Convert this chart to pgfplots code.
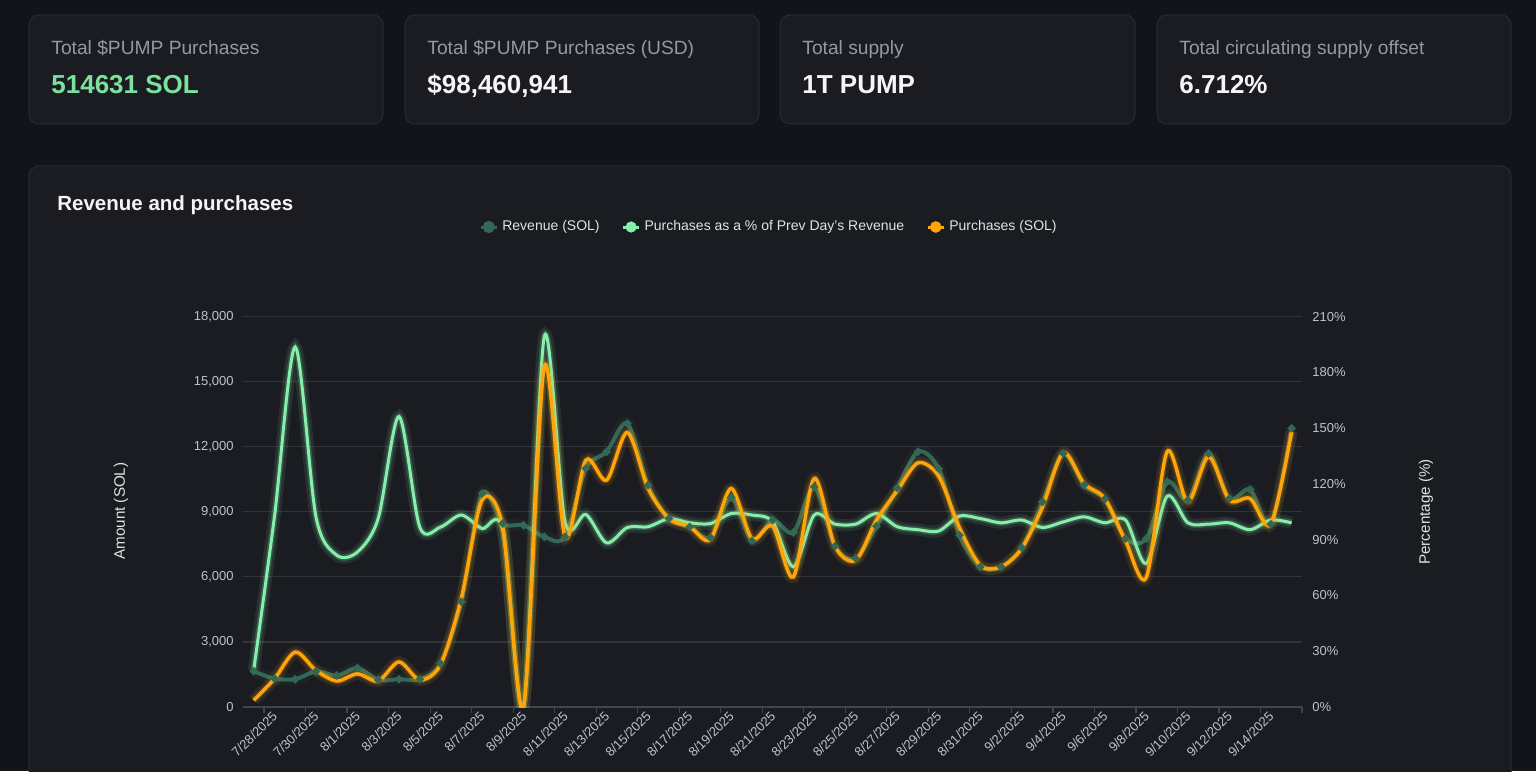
\documentclass[border=0pt]{standalone}
\usepackage{fontspec}
\setmainfont{Liberation Sans}
\usepackage{pgfplots}
\pgfplotsset{compat=1.18}
\usepackage{pgfplotstable}

\definecolor{pagebg}{RGB}{19,20,25}
\definecolor{cardbg}{RGB}{27,28,33}
\definecolor{cardborder}{RGB}{42,43,49}
\definecolor{labelgray}{RGB}{150,152,160}
\definecolor{valwhite}{RGB}{245,245,247}
\definecolor{valgreen}{RGB}{122,226,156}
\definecolor{revcol}{RGB}{52,104,86}
\definecolor{revdot}{RGB}{36,96,82}
\definecolor{pctcol}{RGB}{134,239,172}
\definecolor{purcol}{RGB}{255,165,10}
\definecolor{gridcol}{RGB}{50,52,58}
\definecolor{axcol}{RGB}{66,68,75}
\definecolor{ticktext}{RGB}{192,194,200}
\definecolor{axtext}{RGB}{225,226,230}

% k = day index (0 = 7/28/2025 band), rev = Revenue (SOL), pct = Purchases as % of prev day's revenue, pur = Purchases (SOL)
\pgfplotstableread{
k rev pct pur
0 1650 19.7 310
1 1310 102.3 1300
2 1280 193.7 2530
3 1640 102.3 1690
4 1450 81.7 1200
5 1800 83.4 1530
6 1250 101.5 1200
7 1280 156.3 2080
8 1280 96.8 1250
9 2000 96.8 1950
10 4850 103.3 5000
11 9850 96.0 9540
12 8460 95.1 8300
13 8380 0 0
14 7850 199.3 15700
15 7850 99.6 7850
16 11000 103.6 11380
17 11770 88.3 10460
18 13080 96.6 12660
19 10230 97.0 10080
20 8690 101.3 8690
21 8310 99.1 8310
22 7815 98.7 7720
23 9660 104.1 10080
24 7660 103.3 7770
25 8620 99.6 8340
26 8050 75.4 6000
27 10150 103.3 10540
28 7415 98.4 7415
29 6850 98.4 6770
30 8340 104.1 8620
31 10100 97.0 9970
32 11770 95.4 11260
33 10990 94.7 10640
34 7920 102.7 8270
35 6460 101.4 6540
36 6460 99.1 6460
37 7350 100.6 7310
38 9460 96.6 9230
39 11690 99.6 11720
40 10230 102.3 10310
41 9580 99.1 9615
42 7770 100.6 7660
43 7770 77.2 5970
44 10380 113.4 11770
45 9540 99.1 9460
46 11690 98.4 11540
47 9615 99.1 9540
48 10030 95.4 9615
49 8430 100.6 8430
50 12850 99.1 12690
}\datatable

\begin{document}
\begin{tikzpicture}
\useasboundingbox (0pt,0pt) rectangle (768pt,385.5pt);
\fill[pagebg] (0pt,0pt) rectangle (768pt,385.5pt);

% cards
\draw[cardborder, fill=cardbg, line width=0.5pt, rounded corners=5pt] (14.5pt,323.5pt) rectangle (191.5pt,378pt);
\draw[cardborder, fill=cardbg, line width=0.5pt, rounded corners=5pt] (202.5pt,323.5pt) rectangle (379.5pt,378pt);
\draw[cardborder, fill=cardbg, line width=0.5pt, rounded corners=5pt] (390pt,323.5pt) rectangle (567.5pt,378pt);
\draw[cardborder, fill=cardbg, line width=0.5pt, rounded corners=5pt] (578.5pt,323.5pt) rectangle (755.5pt,378pt);

\begin{scope}[every node/.style={anchor=base west, inner sep=0pt}]
\node[text=labelgray, font=\fontsize{9.6pt}{11pt}\selectfont] at (25.5pt,358pt) {Total \$PUMP Purchases};
\node[text=valgreen, font=\fontsize{13pt}{15pt}\selectfont\bfseries] at (25.5pt,338.5pt) {514631 SOL};
\node[text=labelgray, font=\fontsize{9.6pt}{11pt}\selectfont] at (213.5pt,358pt) {Total \$PUMP Purchases (USD)};
\node[text=valwhite, font=\fontsize{13pt}{15pt}\selectfont\bfseries] at (213.5pt,338.5pt) {\$98,460,941};
\node[text=labelgray, font=\fontsize{9.6pt}{11pt}\selectfont] at (401pt,358pt) {Total supply};
\node[text=valwhite, font=\fontsize{13pt}{15pt}\selectfont\bfseries] at (401pt,338.5pt) {1T PUMP};
\node[text=labelgray, font=\fontsize{9.6pt}{11pt}\selectfont] at (589.5pt,358pt) {Total circulating supply offset};
\node[text=valwhite, font=\fontsize{13pt}{15pt}\selectfont\bfseries] at (589.5pt,338.5pt) {6.712\%};
\end{scope}

% chart panel
\draw[cardborder, fill=cardbg, line width=0.5pt, rounded corners=5pt] (14.5pt,-10pt) rectangle (755.5pt,302.5pt);
\node[anchor=base west, inner sep=0pt, text=valwhite, font=\fontsize{10.25pt}{12pt}\selectfont\bfseries] at (28.5pt,280pt) {Revenue and purchases};

\begin{axis}[
  at={(121.65pt,32pt)}, anchor=south west,
  width=529.35pt, height=195.15pt, scale only axis,
  xmin=-0.5, xmax=50.5, ymin=0, ymax=18000,
  axis line style={draw=none},
  ymajorgrids, grid style={gridcol, line width=0.6pt},
  ytick={0,3000,...,18000},
  ytick style={draw=none},
  xtick={0.5,2.5,...,50.5},
  xticklabels={7/28/2025,7/30/2025,8/1/2025,8/3/2025,8/5/2025,8/7/2025,8/9/2025,8/11/2025,8/13/2025,8/15/2025,8/17/2025,8/19/2025,8/21/2025,8/23/2025,8/25/2025,8/27/2025,8/29/2025,8/31/2025,9/2/2025,9/4/2025,9/6/2025,9/8/2025,9/10/2025,9/12/2025,9/14/2025,{}},
  xtick pos=bottom, tick align=outside, major tick length=3pt,
  xtick style={draw=axcol, line width=0.6pt},
  extra y ticks={0}, extra y tick labels={}, extra y tick style={grid style={axcol, line width=0.7pt}},
  x tick label style={rotate=45, anchor=east, inner sep=0pt, xshift=3.75pt, yshift=-4pt, font=\fontsize{6.5pt}{7pt}\selectfont, text=ticktext},
  y tick label style={inner sep=0pt, xshift=-1.65pt, font=\fontsize{6.5pt}{7pt}\selectfont, text=ticktext},
  scaled y ticks=false,
  /pgf/number format/.cd, 1000 sep={,}, assume math mode=true, /pgfplots/.cd,
  ylabel={Amount (SOL)},
  ylabel style={at={(axis description cs:-0.1155,0.502)}, anchor=center, font=\fontsize{7.6pt}{9pt}\selectfont, text=axtext},
  legend style={at={(axis description cs:0.4975,1.2298)}, anchor=center, legend columns=3, draw=none, fill=none, text=axtext, font=\fontsize{7pt}{8pt}\selectfont, inner sep=0pt, /tikz/every even column/.append style={column sep=9pt}},
  legend cell align=left,
]
% Revenue (SOL)
\addplot[forget plot, smooth, draw=revcol, line width=6pt, opacity=0.1] table[x=k,y=rev]{\datatable};
\addplot[smooth, draw=revcol, line width=2pt, mark=*, mark size=0.8pt, mark options={fill=revdot, draw=none},
  legend image code/.code={\draw[revcol, line width=1.5pt] (0pt,0pt) -- (8pt,0pt); \fill[revcol] (4pt,0pt) circle (2pt);}] table[x=k,y=rev]{\datatable};
\addlegendentry{Revenue (SOL)}
% Purchases as % of previous day's revenue (right axis, 210% = 18000)
\addplot[forget plot, smooth, draw=pctcol, line width=6pt, opacity=0.1] table[x=k,y expr=\thisrow{pct}*18000/210]{\datatable};
\addplot[forget plot, smooth, draw=pctcol, line width=3.2pt, opacity=0.2] table[x=k,y expr=\thisrow{pct}*18000/210]{\datatable};
\addplot[smooth, draw=pctcol, line width=1.5pt,
  legend image code/.code={\draw[pctcol, line width=1.5pt] (0pt,0pt) -- (8pt,0pt); \fill[pctcol] (4pt,0pt) circle (2pt);}] table[x=k,y expr=\thisrow{pct}*18000/210]{\datatable};
\addlegendentry{Purchases as a \% of Prev Day's Revenue}
% Purchases (SOL)
\addplot[forget plot, smooth, draw=purcol, line width=6pt, opacity=0.1] table[x=k,y=pur]{\datatable};
\addplot[forget plot, smooth, draw=purcol, line width=3.2pt, opacity=0.2] table[x=k,y=pur]{\datatable};
\addplot[smooth, draw=purcol, line width=1.7pt,
  legend image code/.code={\draw[purcol, line width=1.5pt] (0pt,0pt) -- (8pt,0pt); \fill[purcol] (4pt,0pt) circle (2pt);}] table[x=k,y=pur]{\datatable};
\addlegendentry{Purchases (SOL)}
\end{axis}

\begin{axis}[
  at={(121.65pt,32pt)}, anchor=south west,
  width=529.35pt, height=195.15pt, scale only axis,
  xmin=-0.5, xmax=50.5, ymin=0, ymax=210,
  axis line style={draw=none},
  xtick=\empty,
  ytick={0,30,...,210},
  ytick style={draw=none},
  yticklabel pos=right,
  yticklabel={\pgfmathprintnumber{\tick}\%},
  y tick label style={anchor=west, inner sep=0pt, xshift=5pt, font=\fontsize{6.5pt}{7pt}\selectfont, text=ticktext},
  /pgf/number format/assume math mode=true,
  ylabel={Percentage (\%)},
  ylabel style={at={(axis description cs:1.1171,0.5)}, anchor=center, rotate=0, font=\fontsize{7.6pt}{9pt}\selectfont, text=axtext},
]
\end{axis}
\end{tikzpicture}
\end{document}
